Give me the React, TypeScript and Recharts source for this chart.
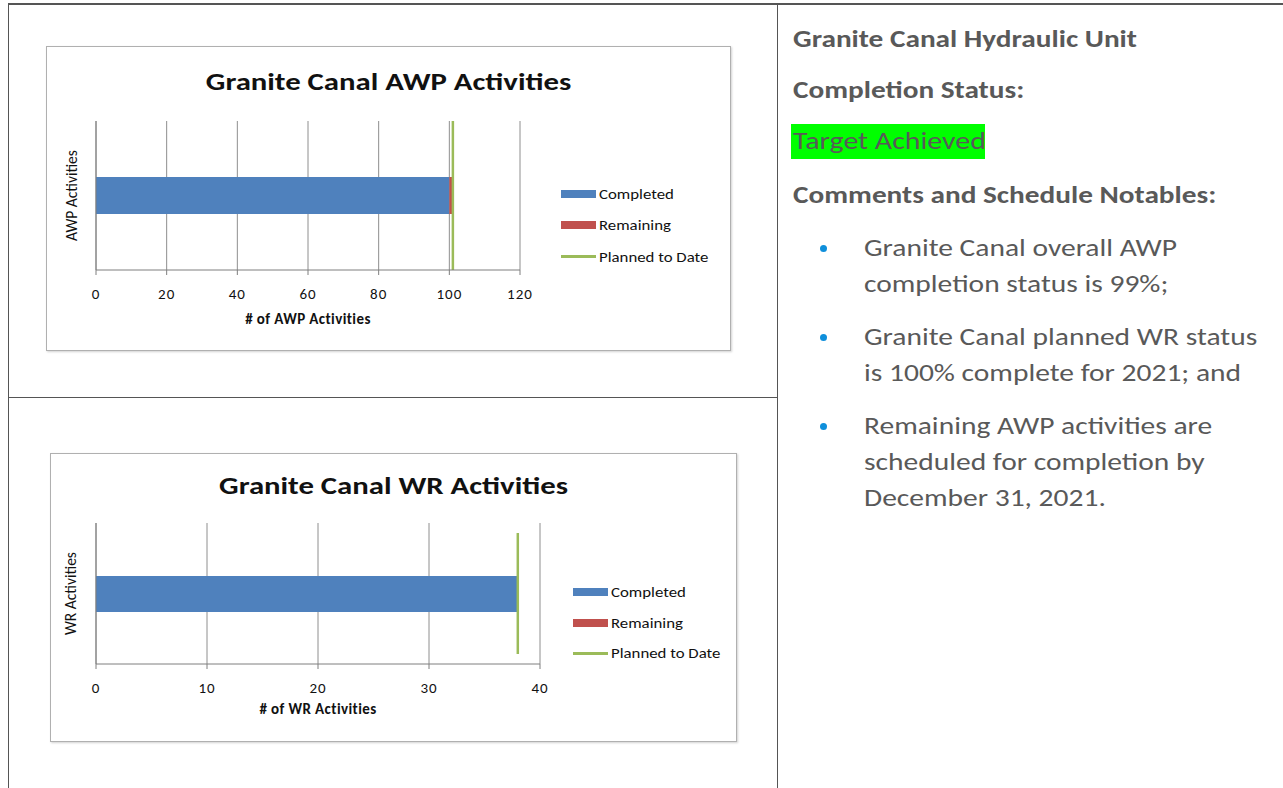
import React from "react";
import {
  Bar,
  BarChart,
  CartesianGrid,
  Legend,
  ReferenceLine,
  XAxis,
  YAxis,
} from "recharts";

// AWP chart
const AWP_CATEGORIES = ["AWP Activities"];
const AWP_COMPLETED = [100];
const AWP_REMAINING = [1];
const AWP_PLANNED = [101];
const AWP_TICKS = [0, 20, 40, 60, 80, 100, 120];

// WR chart
const WR_CATEGORIES = ["WR Activities"];
const WR_COMPLETED = [38];
const WR_REMAINING = [0];
const WR_PLANNED = [38];
const WR_TICKS = [0, 10, 20, 30, 40];

const SERIES_NAMES = ["Completed", "Remaining", "Planned to Date"];
const SERIES_COLORS = ["#4f81bd", "#c0504d", "#9bbb59"];

const NOTES = [
  ["Granite Canal overall AWP", "completion status is 99%;"],
  ["Granite Canal planned WR status", "is 100% complete for 2021; and"],
  [
    "Remaining AWP activities are",
    "scheduled for completion by",
    "December 31, 2021.",
  ],
];

const FONT = "Carlito, Lato, 'Open Sans', sans-serif";
const AXIS = "#7f7f7f";
const GRID = "#8e8e8e";
const TEXT = "#595959";
// the source picture is a bit wider than the font, stretch text to match
const HEAD_STRETCH = 1.22;
const BODY_STRETCH = 1.18;

function LegendBox({ rowH }: { rowH: number }) {
  return (
    <div style={{ fontFamily: FONT, fontSize: 15, color: "#111" }}>
      {SERIES_NAMES.map((name, i) => (
        <div
          key={name}
          style={{ display: "flex", alignItems: "center", height: rowH }}
        >
          <div
            style={{
              width: 35,
              height: i < 2 ? 8 : 3,
              background: SERIES_COLORS[i],
            }}
          />
          <span
            style={{
              marginLeft: 3,
              display: "inline-block",
              transform: "scaleX(1.12)",
              transformOrigin: "left center",
              whiteSpace: "nowrap",
            }}
          >
            {name}
          </span>
        </div>
      ))}
    </div>
  );
}

type PanelProps = {
  title: string;
  xLabel: string;
  categories: string[];
  completed: number[];
  remaining: number[];
  planned: number[];
  ticks: number[];
  box: { left: number; top: number; width: number; height: number };
  margin: { top: number; right: number; bottom: number; left: number };
  barSize: number;
  titleY: number;
  legend: { left: number; top: number; rowH: number };
  yLabelOffset: number;
  xLabelOffset: number;
  lineInset: number;
};

function ChartPanel(p: PanelProps) {
  const data = p.categories.map((name, i) => ({
    name,
    completed: p.completed[i],
    remaining: p.remaining[i],
    planned: p.planned[i],
  }));
  const w = p.box.width - 2;
  const h = p.box.height - 2;
  return (
    <div
      style={{
        position: "absolute",
        left: p.box.left,
        top: p.box.top,
        width: p.box.width,
        height: p.box.height,
        boxSizing: "border-box",
        border: "1px solid #b0b0b0",
        boxShadow: "1px 1px 2px rgba(0,0,0,0.18)",
        background: "#fff",
      }}
    >
      <div
        style={{
          position: "absolute",
          left: 0,
          width: w,
          top: p.titleY - 16,
          height: 32,
          lineHeight: "32px",
          textAlign: "center",
          fontFamily: FONT,
          fontWeight: 700,
          fontSize: 25,
          color: "#111",
          transform: "scaleX(1.23)",
          transformOrigin: "center",
        }}
      >
        {p.title}
      </div>
      <BarChart
        width={w}
        height={h}
        data={data}
        layout="vertical"
        margin={p.margin}
        barSize={p.barSize}
      >
        <CartesianGrid vertical horizontal={false} stroke={GRID} />
        <XAxis
          type="number"
          domain={[0, p.ticks[p.ticks.length - 1]]}
          ticks={p.ticks}
          interval={0}
          height={60}
          tickSize={5}
          tickMargin={13}
          stroke={AXIS}
          tick={{
            fill: "#111",
            fontSize: 15,
            fontFamily: FONT,
            style: { letterSpacing: 1 },
          }}
          label={{
            value: p.xLabel,
            position: "insideBottom",
            offset: p.xLabelOffset,
            style: {
              fontFamily: FONT,
              fontSize: 15,
              fontWeight: 700,
              fill: "#111",
              letterSpacing: 0.4,
            },
          }}
        />
        <YAxis
          type="category"
          dataKey="name"
          width={30}
          tick={false}
          tickLine={false}
          axisLine={{ stroke: AXIS }}
          label={{
            value: p.categories[0],
            angle: -90,
            position: "insideLeft",
            offset: p.yLabelOffset,
            style: {
              textAnchor: "middle",
              fontFamily: FONT,
              fontSize: 15.5,
              fill: "#111",
            },
          }}
        />
        <Bar
          dataKey="completed"
          name={SERIES_NAMES[0]}
          stackId="s"
          fill={SERIES_COLORS[0]}
          isAnimationActive={false}
        />
        <Bar
          dataKey="remaining"
          name={SERIES_NAMES[1]}
          stackId="s"
          fill={SERIES_COLORS[1]}
          isAnimationActive={false}
        />
        <ReferenceLine
          x={data[0].planned}
          stroke={SERIES_COLORS[2]}
          strokeWidth={2.5}
          shape={(lp: any) => (
            <line
              x1={lp.x1}
              x2={lp.x2}
              y1={Math.min(lp.y1, lp.y2) + p.lineInset}
              y2={Math.max(lp.y1, lp.y2) - p.lineInset}
              stroke={SERIES_COLORS[2]}
              strokeWidth={2.5}
            />
          )}
        />
        <Legend
          layout="vertical"
          align="center"
          verticalAlign="middle"
          content={() => <LegendBox rowH={p.legend.rowH} />}
          wrapperStyle={{
            left: p.legend.left,
            top: p.legend.top,
            width: 170,
            height: "auto",
          }}
        />
      </BarChart>
    </div>
  );
}

function NotesPanel() {
  const base = {
    position: "absolute" as const,
    left: 793,
    whiteSpace: "nowrap" as const,
    transformOrigin: "left center",
    fontFamily: FONT,
    color: TEXT,
  };
  const heading = {
    ...base,
    transform: `scaleX(${HEAD_STRETCH})`,
    fontWeight: 700,
    fontSize: 24,
    height: 28,
    lineHeight: "28px",
  };
  const body = { ...base, transform: `scaleX(${BODY_STRETCH})` };
  const lineTops = [
    [230, 266],
    [319, 355],
    [408, 444, 480],
  ];
  return (
    <>
      <div style={{ ...heading, top: 25 }}>Granite Canal Hydraulic Unit</div>
      <div style={{ ...heading, top: 76 }}>Completion Status:</div>
      <div
        style={{
          position: "absolute",
          left: 791,
          top: 124,
          width: 194,
          height: 35,
          background: "#00ff00",
        }}
      />
      <div
        style={{
          ...base,
          transform: `scaleX(${HEAD_STRETCH})`,
          top: 124,
          height: 35,
          lineHeight: "35px",
          fontSize: 24.5,
        }}
      >
        Target Achieved
      </div>
      <div style={{ ...heading, top: 181 }}>
        Comments and Schedule Notables:
      </div>
      {NOTES.map((lines, i) => (
        <React.Fragment key={i}>
          <div
            style={{
              position: "absolute",
              left: 820,
              top: lineTops[i][0] + 15,
              width: 7,
              height: 7,
              borderRadius: "50%",
              background: "#0f8fdb",
            }}
          />
          {lines.map((t, j) => (
            <div
              key={j}
              style={{
                ...body,
                left: 864,
                top: lineTops[i][j],
                height: 36,
                lineHeight: "36px",
                fontSize: 25,
              }}
            >
              {t}
            </div>
          ))}
        </React.Fragment>
      ))}
    </>
  );
}

export default function App() {
  return (
    <div
      style={{
        position: "absolute",
        left: 0,
        top: 0,
        width: 1283,
        height: 788,
        background: "#fff",
        overflow: "hidden",
      }}
    >
      {/* table rules */}
      <div style={{ position: "absolute", left: 8, top: 3, width: 1275, height: 1.5, background: "#555" }} />
      <div style={{ position: "absolute", left: 8, top: 3, width: 1, height: 785, background: "#555" }} />
      <div style={{ position: "absolute", left: 777, top: 3, width: 1, height: 785, background: "#555" }} />
      <div style={{ position: "absolute", left: 8, top: 397, width: 770, height: 1, background: "#555" }} />

      <ChartPanel
        title="Granite Canal AWP Activities"
        xLabel="# of AWP Activities"
        categories={AWP_CATEGORIES}
        completed={AWP_COMPLETED}
        remaining={AWP_REMAINING}
        planned={AWP_PLANNED}
        ticks={AWP_TICKS}
        box={{ left: 46, top: 46, width: 685, height: 305 }}
        margin={{ top: 74, right: 210, bottom: 20, left: 19 }}
        barSize={37}
        titleY={35}
        legend={{ left: 514, top: 131, rowH: 31.5 }}
        yLabelOffset={5}
        xLabelOffset={6}
        lineInset={0}
      />
      <ChartPanel
        title="Granite Canal WR Activities"
        xLabel="# of WR Activities"
        categories={WR_CATEGORIES}
        completed={WR_COMPLETED}
        remaining={WR_REMAINING}
        planned={WR_PLANNED}
        ticks={WR_TICKS}
        box={{ left: 50, top: 453, width: 687, height: 289 }}
        margin={{ top: 69, right: 196, bottom: 17, left: 15 }}
        barSize={36}
        titleY={32}
        legend={{ left: 522, top: 123, rowH: 30.5 }}
        yLabelOffset={4}
        xLabelOffset={10}
        lineInset={10}
      />
      <NotesPanel />
    </div>
  );
}
